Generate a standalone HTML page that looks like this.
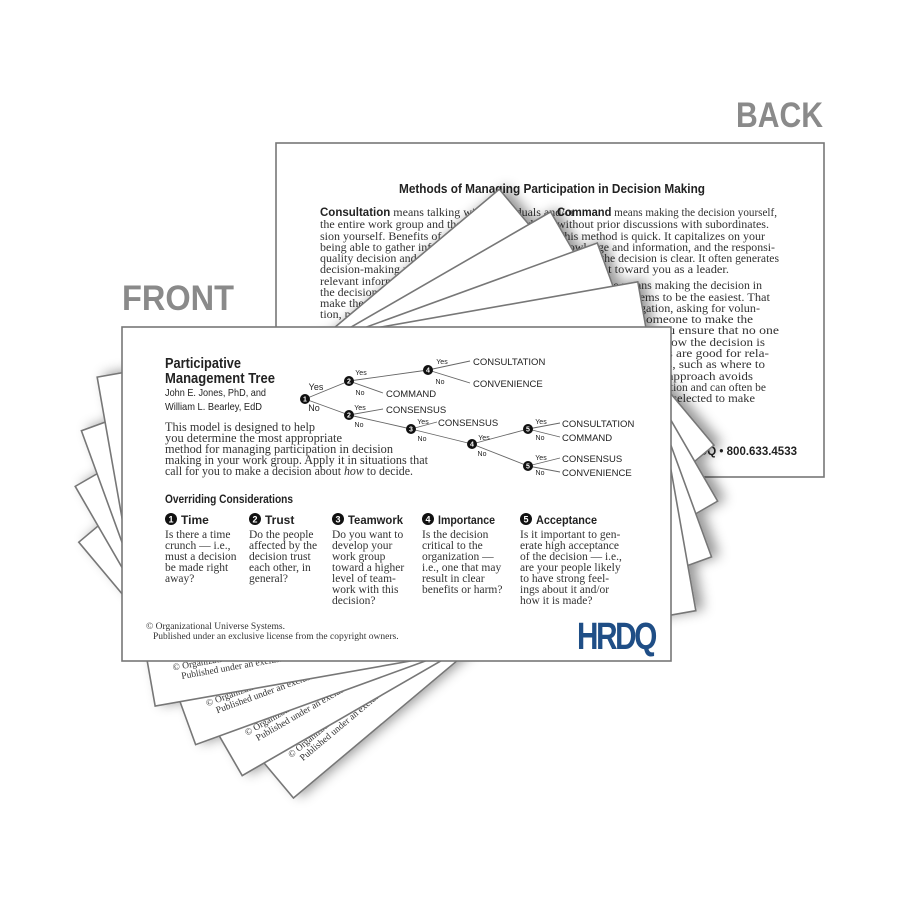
<!DOCTYPE html>
<html><head><meta charset="utf-8"><style>
html,body{margin:0;padding:0;background:#fff;}
svg{display:block}
.s{font-family:"Liberation Serif",serif;fill:#333}
.a{font-family:"Liberation Sans",sans-serif;fill:#222}
</style></head><body>
<svg width="900" height="900" viewBox="0 0 900 900" xmlns="http://www.w3.org/2000/svg">
<defs>
<filter id="sh" x="-20%" y="-20%" width="140%" height="140%">
<feDropShadow dx="7" dy="-2" stdDeviation="6" flood-color="#000" flood-opacity="0.4"/>
</filter>
<g id="card">
<rect x="122" y="327" width="549" height="334" fill="#fff" stroke="#777" stroke-width="1.6"/>
<text class="s" x="146" y="629" font-size="9.5">© Organizational Universe Systems.</text>
<text class="s" x="153" y="639" font-size="9.5">Published under an exclusive license from the copyright owners.</text>
</g>
</defs>

<text x="736" y="127" font-family="Liberation Sans,sans-serif" font-weight="bold" font-size="35" fill="#8a8a8a" textLength="87" lengthAdjust="spacingAndGlyphs">BACK</text>
<text x="122" y="310" font-family="Liberation Sans,sans-serif" font-weight="bold" font-size="35" fill="#8a8a8a" textLength="112" lengthAdjust="spacingAndGlyphs">FRONT</text>

<!-- back card -->
<rect x="276" y="143" width="548" height="334" fill="#fff" stroke="#777" stroke-width="1.6"/>
<text class="a" x="399" y="193" font-size="13" font-weight="bold" textLength="306" lengthAdjust="spacingAndGlyphs">Methods of Managing Participation in Decision Making</text>
<g class="s" font-size="12">
<text x="320" y="216"><tspan class="a" font-weight="bold" font-size="11.5">Consultation</tspan> means talking with individuals and/or</text>
<text x="320" y="228">the entire work group and then making the deci-</text>
<text x="320" y="240">sion yourself. Benefits of this method are your</text>
<text x="320" y="251">being able to gather information for making a</text>
<text x="320" y="262">quality decision and reserving the</text>
<text x="320" y="273">decision-making power for yourself</text>
<text x="320" y="285">relevant information is shared</text>
<text x="320" y="296">the decision is made by</text>
<text x="320" y="307">make the decision</text>
<text x="320" y="318">tion, people</text>
<text x="557" y="216" textLength="220" lengthAdjust="spacingAndGlyphs"><tspan class="a" font-weight="bold">Command</tspan> means making the decision yourself,</text>
<text x="557" y="228" textLength="212" lengthAdjust="spacingAndGlyphs">without prior discussions with subordinates.</text>
<text x="557" y="240" textLength="208" lengthAdjust="spacingAndGlyphs">This method is quick. It capitalizes on your</text>
<text x="557" y="251" textLength="218" lengthAdjust="spacingAndGlyphs">knowledge and information, and the responsi-</text>
<text x="557" y="262" textLength="222" lengthAdjust="spacingAndGlyphs">bility for the decision is clear. It often generates</text>
<text x="557" y="273" textLength="172" lengthAdjust="spacingAndGlyphs">resentment toward you as a leader.</text>
<text x="557" y="289" textLength="205" lengthAdjust="spacingAndGlyphs">Convenience means making the decision in</text>
<text x="557" y="301" textLength="213" lengthAdjust="spacingAndGlyphs">whatever way seems to be the easiest. That</text>
<text x="557" y="312" textLength="203" lengthAdjust="spacingAndGlyphs">may include delegation, asking for volun-</text>
<text x="557" y="323" textLength="196" lengthAdjust="spacingAndGlyphs">teers, or asking someone to make the</text>
<text x="557" y="334" textLength="222" lengthAdjust="spacingAndGlyphs">decision for you. You ensure that no one</text>
<text x="557" y="346" textLength="208" lengthAdjust="spacingAndGlyphs">cares much whether how the decision is</text>
<text x="557" y="357" textLength="212" lengthAdjust="spacingAndGlyphs">made. These methods are good for rela-</text>
<text x="557" y="368" textLength="208" lengthAdjust="spacingAndGlyphs">tively trivial decisions, such as where to</text>
<text x="557" y="380" textLength="196" lengthAdjust="spacingAndGlyphs">hold a meeting. This approach avoids</text>
<text x="557" y="391" textLength="209" lengthAdjust="spacingAndGlyphs">wasting time on deliberation and can often be</text>
<text x="557" y="402" textLength="198" lengthAdjust="spacingAndGlyphs">used when the persons selected to make</text>
</g>
<text class="a" x="797" y="455" font-size="11.5" font-weight="bold" text-anchor="end">HRDQ • 800.633.4533</text>

<!-- fan cards -->
<g filter="url(#sh)">
<use href="#card" transform="rotate(-40 396 494)"/>
<use href="#card" transform="rotate(-30 396 494)"/>
<use href="#card" transform="rotate(-20 396 494)"/>
<use href="#card" transform="rotate(-10 396 494)"/>
</g>

<!-- front card -->
<use href="#card"/>
<text class="a" x="165" y="368" font-size="14.5" font-weight="bold" textLength="76" lengthAdjust="spacingAndGlyphs">Participative</text>
<text class="a" x="165" y="383" font-size="14.5" font-weight="bold" textLength="110" lengthAdjust="spacingAndGlyphs">Management Tree</text>
<text class="a" x="165" y="396" font-size="10.5" textLength="101" lengthAdjust="spacingAndGlyphs">John E. Jones, PhD, and</text>
<text class="a" x="165" y="410" font-size="10.5" textLength="97" lengthAdjust="spacingAndGlyphs">William L. Bearley, EdD</text>
<g class="s" font-size="12.5">
<text x="165" y="431" textLength="150" lengthAdjust="spacingAndGlyphs">This model is designed to help</text>
<text x="165" y="442" textLength="177" lengthAdjust="spacingAndGlyphs">you determine the most appropriate</text>
<text x="165" y="453" textLength="228" lengthAdjust="spacingAndGlyphs">method for managing participation in decision</text>
<text x="165" y="464" textLength="263" lengthAdjust="spacingAndGlyphs">making in your work group. Apply it in situations that</text>
<text x="165" y="475" textLength="248" lengthAdjust="spacingAndGlyphs">call for you to make a decision about <tspan font-style="italic">how</tspan> to decide.</text>
</g>
<text class="a" x="165" y="503" font-size="12" font-weight="bold" textLength="128" lengthAdjust="spacingAndGlyphs">Overriding Considerations</text>

<!-- columns -->
<g class="a" font-size="12" font-weight="bold">
<circle cx="171" cy="519" r="6" fill="#111"/><text x="171" y="522.5" font-size="9" fill="#fff" text-anchor="middle">1</text><text x="181" y="524">Time</text>
<circle cx="255" cy="519" r="6" fill="#111"/><text x="255" y="522.5" font-size="9" fill="#fff" text-anchor="middle">2</text><text x="265" y="524">Trust</text>
<circle cx="338" cy="519" r="6" fill="#111"/><text x="338" y="522.5" font-size="9" fill="#fff" text-anchor="middle">3</text><text x="348" y="524" textLength="55" lengthAdjust="spacingAndGlyphs">Teamwork</text>
<circle cx="428" cy="519" r="6" fill="#111"/><text x="428" y="522.5" font-size="9" fill="#fff" text-anchor="middle">4</text><text x="438" y="524" textLength="57" lengthAdjust="spacingAndGlyphs">Importance</text>
<circle cx="526" cy="519" r="6" fill="#111"/><text x="526" y="522.5" font-size="9" fill="#fff" text-anchor="middle">5</text><text x="536" y="524" textLength="61" lengthAdjust="spacingAndGlyphs">Acceptance</text>
</g>
<g class="s" font-size="11.5">
<text x="165" y="538">Is there a time</text><text x="165" y="549">crunch — i.e.,</text><text x="165" y="560">must a decision</text><text x="165" y="571">be made right</text><text x="165" y="582">away?</text>
<text x="249" y="538">Do the people</text><text x="249" y="549">affected by the</text><text x="249" y="560">decision trust</text><text x="249" y="571">each other, in</text><text x="249" y="582">general?</text>
<text x="332" y="538">Do you want to</text><text x="332" y="549">develop your</text><text x="332" y="560">work group</text><text x="332" y="571">toward a higher</text><text x="332" y="582">level of team-</text><text x="332" y="593">work with this</text><text x="332" y="604">decision?</text>
<text x="422" y="538">Is the decision</text><text x="422" y="549">critical to the</text><text x="422" y="560">organization —</text><text x="422" y="571">i.e., one that may</text><text x="422" y="582">result in clear</text><text x="422" y="593">benefits or harm?</text>
<text x="520" y="538">Is it important to gen-</text><text x="520" y="549">erate high acceptance</text><text x="520" y="560">of the decision — i.e.,</text><text x="520" y="571">are your people likely</text><text x="520" y="582">to have strong feel-</text><text x="520" y="593">ings about it and/or</text><text x="520" y="604">how it is made?</text>
</g>

<!-- HRDQ logo -->
<text x="577" y="649" font-family="Liberation Sans,sans-serif" font-weight="bold" font-size="38" fill="#1f4e86" textLength="78" lengthAdjust="spacingAndGlyphs" letter-spacing="-3">HRDQ</text>

<!-- tree -->
<g stroke="#666" stroke-width="0.9" fill="none">
<path d="M305 399L349 381M305 399L349 415M349 381L428 370M349 381L383 393M428 370L470 361M428 370L470 383M349 415L383 409M349 415L411 429M411 429L437 422M411 429L472 444M472 444L528 429M472 444L528 466M528 429L560 423M528 429L560 437M528 466L560 458M528 466L560 472"/>
</g>
<g fill="#111">
<circle cx="305" cy="399" r="5"/><circle cx="349" cy="381" r="5"/><circle cx="428" cy="370" r="5"/><circle cx="349" cy="415" r="5"/><circle cx="411" cy="429" r="5"/><circle cx="472" cy="444" r="5"/><circle cx="528" cy="429" r="5"/><circle cx="528" cy="466" r="5"/>
</g>
<g class="a" font-size="7" text-anchor="middle" font-weight="bold" style="fill:#fff">
<text x="305" y="401.5">1</text><text x="349" y="383.5">2</text><text x="428" y="372.5">4</text><text x="349" y="417.5">2</text><text x="411" y="431.5">3</text><text x="472" y="446.5">4</text><text x="528" y="431.5">5</text><text x="528" y="468.5">5</text>
</g>
<g class="a" font-size="7" text-anchor="middle">
<text x="316" y="390" font-size="9">Yes</text><text x="314" y="411" font-size="9">No</text>
<text x="361" y="375">Yes</text><text x="360" y="395">No</text>
<text x="442" y="364">Yes</text><text x="440" y="384">No</text>
<text x="360" y="410">Yes</text><text x="359" y="427">No</text>
<text x="423" y="424">Yes</text><text x="422" y="441">No</text>
<text x="484" y="440">Yes</text><text x="482" y="456">No</text>
<text x="541" y="424">Yes</text><text x="540" y="440">No</text>
<text x="541" y="460">Yes</text><text x="540" y="475">No</text>
</g>
<g class="a" font-size="9.5">
<text x="473" y="365">CONSULTATION</text>
<text x="473" y="387">CONVENIENCE</text>
<text x="386" y="397">COMMAND</text>
<text x="386" y="413">CONSENSUS</text>
<text x="438" y="426">CONSENSUS</text>
<text x="562" y="427">CONSULTATION</text>
<text x="562" y="441">COMMAND</text>
<text x="562" y="462">CONSENSUS</text>
<text x="562" y="476">CONVENIENCE</text>
</g>
</svg>
</body></html>
